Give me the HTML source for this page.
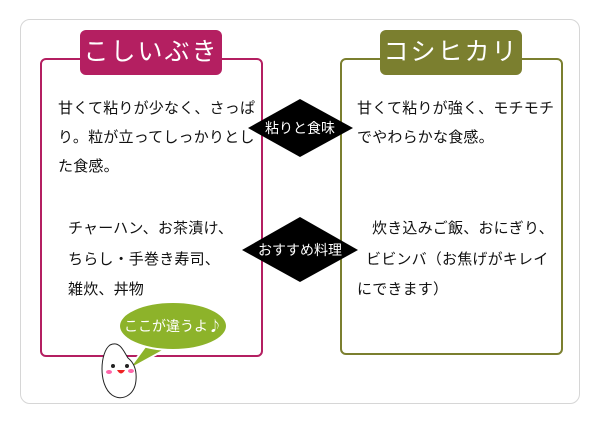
<!DOCTYPE html>
<html><head><meta charset="utf-8"><style>
body{margin:0;width:600px;height:424px;background:#fff;position:relative;overflow:hidden;font-family:"Liberation Sans","Noto Sans CJK JP",sans-serif;}
.a{position:absolute;}
.t{position:absolute;font-size:15px;color:#111;white-space:nowrap;letter-spacing:0.2px}
</style></head><body>
<div class="a" style="left:20px;top:19px;width:558px;height:383px;border:1px solid #d6d6d6;border-radius:10px;"></div>
<div class="a" style="left:40px;top:58px;width:219px;height:295px;border:2px solid #b41f61;border-radius:6px;"></div>
<div class="a" style="left:340px;top:58px;width:219px;height:293px;border:2px solid #7b7f2f;border-radius:6px;"></div>
<div class="a" style="left:80px;top:30px;width:142px;height:45px;background:#b41f61;border-radius:6px;color:#fff;font-size:25px;text-align:center;line-height:45px;letter-spacing:2px">こしいぶき</div>
<div class="a" style="left:380px;top:30px;width:142px;height:45px;background:#7b7f2f;border-radius:6px;color:#fff;font-size:25px;text-align:center;line-height:45px;letter-spacing:2px">コシヒカリ</div>
<svg class="a" style="left:0;top:0" width="600" height="424">
<polygon points="300,99 353,128 300,157 248,128" fill="#000"/>
<polygon points="300,217 358,250 300,282 242,250" fill="#000"/>
<text x="300" y="133" fill="#fff" font-size="14" text-anchor="middle" font-family="Noto Sans CJK JP,sans-serif">粘りと食味</text>
<text x="300" y="255" fill="#fff" font-size="14" text-anchor="middle" font-family="Noto Sans CJK JP,sans-serif">おすすめ料理</text>
<path d="M150,340 L128,370 L168,348 Z" fill="#8db32a" stroke="#fff" stroke-width="2"/>
<ellipse cx="173" cy="326" rx="54" ry="24" fill="#8db32a" stroke="#fff" stroke-width="2"/>
<text x="173" y="331" fill="#fff" font-size="14" text-anchor="middle" font-family="Noto Sans CJK JP,sans-serif">ここが違うよ♪</text>
<path d="M110,345 C100,352 98,385 112,395 C122,402 135,395 136,380 C137,368 133,362 128,358 C124,352 120,340 110,345 Z" fill="#fff" stroke="#222" stroke-width="1"/>
<circle cx="113" cy="366" r="2" fill="#222"/><circle cx="127" cy="366" r="2" fill="#222"/>
<ellipse cx="109" cy="372" rx="3" ry="2" fill="#f6a"/>
<ellipse cx="131" cy="371" rx="3" ry="2" fill="#f6a"/>
<path d="M117,370 Q121,377 125,370 Z" fill="#e22"/>
</svg>
<div class="t" style="left:58px;top:97px">甘くて粘りが少なく、さっぱ</div>
<div class="t" style="left:58px;top:126px">り。粒が立ってしっかりとし</div>
<div class="t" style="left:58px;top:155px">た食感。</div>
<div class="t" style="left:68px;top:217px">チャーハン、お茶漬け、</div>
<div class="t" style="left:68px;top:248px">ちらし・手巻き寿司、</div>
<div class="t" style="left:68px;top:278px">雑炊、丼物</div>
<div class="t" style="left:357px;top:97px">甘くて粘りが強く、モチモチ</div>
<div class="t" style="left:357px;top:126px">でやわらかな食感。</div>
<div class="t" style="left:372px;top:217px">炊き込みご飯、おにぎり、</div>
<div class="t" style="left:366px;top:248px">ビビンバ（お焦げがキレイ</div>
<div class="t" style="left:357px;top:278px">にできます）</div>
</body></html>
